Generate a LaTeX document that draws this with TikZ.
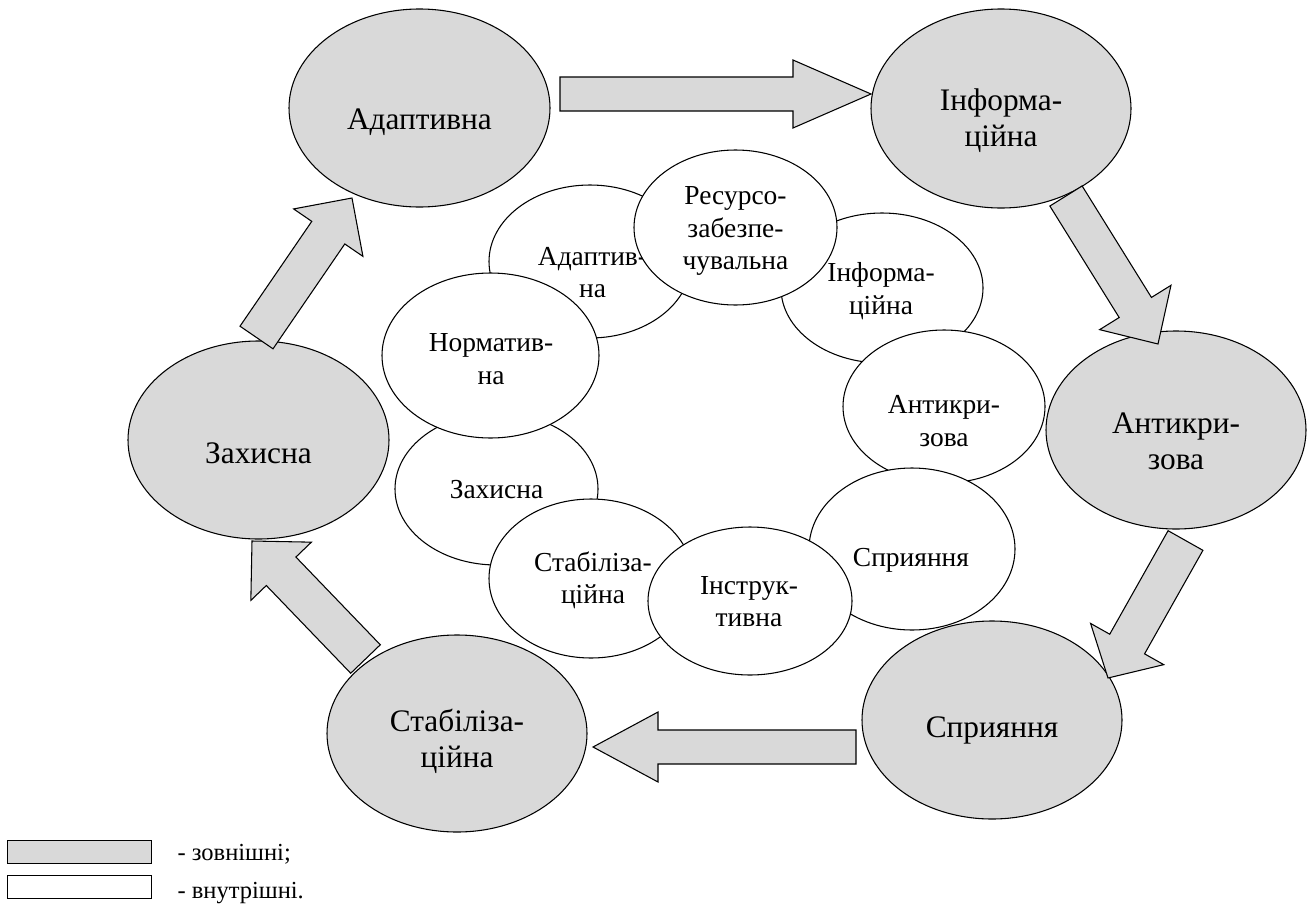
\documentclass[tikz,border=0pt]{standalone}
\usepackage{fontspec}
\setmainfont{Liberation Serif}
\usetikzlibrary{shapes.geometric,calc}
\definecolor{og}{RGB}{217,217,217}
\newcommand\myblockarrow[5]{%
  \draw[barrow] ($(#1)!#3!90:(#2)$) -- ($(#2)!#5!(#1)!#3!-90:(#1)$) -- ($(#2)!#5!(#1)!#4!-90:(#1)$) -- (#2) -- ($(#2)!#5!(#1)!#4!90:(#1)$) -- ($(#2)!#5!(#1)!#3!90:(#1)$) -- ($(#1)!#3!-90:(#2)$) -- cycle;}
\begin{document}
\begin{tikzpicture}[x=0.75pt,y=-0.75pt, line width=0.8pt,
  esize/.style 2 args={minimum width=#1*0.75pt, minimum height=#2*0.75pt},
  outell/.style={ellipse, draw=black, fill=og, inner sep=0pt},
  inell/.style={ellipse, draw=black, fill=white, inner sep=0pt},
  otext/.style={font=\fontsize{23.5}{27}\selectfont, align=center, inner sep=0pt},
  itext/.style={font=\fontsize{20.6}{24.4}\selectfont, align=center, inner sep=0pt},
  barrow/.style={draw=black, fill=og, line join=miter},
  legbox/.style={draw=black, inner sep=0pt, anchor=north west, minimum width=144*0.75pt, minimum height=23*0.75pt},
  legtext/.style={font=\fontsize{18.4}{22}\selectfont, anchor=west, inner sep=0pt}]
\useasboundingbox (0,0) rectangle (1307,907);

% outer ellipses
\node[outell, esize={261}{198}] (oAd) at (419.5,108) {};
\node[otext] (toAd) at (419.5,122) {Адаптивна};
\node[outell, esize={260}{199}] (oIn) at (1001,108.5) {};
\node[otext] (toIn) at (1001,121) {Інформа-\\ційна};
\node[outell, esize={260}{198}] (oAn) at (1176,430) {};
\node[otext] (toAn) at (1176,441) {Антикри-\\зова};
\node[outell, esize={260}{198}] (oSp) at (992,720) {};
\node[otext] (toSp) at (992,730) {Сприяння};
\node[outell, esize={260}{197}] (oSt) at (457,733.5) {};
\node[otext] (toSt) at (457,741.5) {Стабіліза-\\ційна};
\node[outell, esize={261}{198}] (oZa) at (258.5,440) {};
\node[otext] (toZa) at (258.5,453) {Захисна};

% arrow end points
\coordinate (a1s) at (560,94);      \coordinate (a1t) at (871,94);
\coordinate (a2s) at (1066,196);    \coordinate (a2t) at (1158,344);
\coordinate (a3s) at (1185.5,540.5); \coordinate (a3t) at (1108,678);
\coordinate (a4s) at (856,747);     \coordinate (a4t) at (593,747);
\coordinate (a5s) at (365.5,659);   \coordinate (a5t) at (252,541);
\coordinate (a6s) at (256.5,337.5); \coordinate (a6t) at (352,198);

\myblockarrow{a1s}{a1t}{12.75pt}{25.5pt}{58.5pt}
\myblockarrow{a2s}{a2t}{14.25pt}{31.5pt}{32.25pt}
\myblockarrow{a3s}{a3t}{15pt}{31.5pt}{29.25pt}
\myblockarrow{a4s}{a4t}{12.75pt}{26.25pt}{48.75pt}
\myblockarrow{a5s}{a5t}{15.4pt}{31.5pt}{31.5pt}
\myblockarrow{a6s}{a6t}{15pt}{31.5pt}{31.5pt}

% inner ellipses
\node[inell, esize={202}{153}] (iAd) at (590,261.5) {};
\node[itext] (tiAd) at (592.5,272.5) {Адаптив-\\на};
\node[inell, esize={202}{150}] (iIn) at (882,288) {};
\node[itext] (tiIn) at (881,291) {Інформа-\\ційна};
\node[inell, esize={202}{153}] (iAn) at (944,406.5) {};
\node[itext] (tiAn) at (944,421) {Антикри-\\зова};
\node[inell, esize={206}{162}] (iSp) at (912,549) {};
\node[itext] (tiSp) at (911,560) {Сприяння};
\node[inell, esize={203}{152}] (iZa) at (496.5,489) {};
\node[itext] (tiZa) at (496.5,490) {Захисна};
\node[inell, esize={204}{159}] (iSt) at (591,578.5) {};
\node[itext] (tiSt) at (593,580.5) {Стабіліза-\\ційна};
\node[inell, esize={204}{148}] (iIs) at (750,601) {};
\node[itext] (tiIs) at (749,601.5) {Інструк-\\тивна};
\node[inell, esize={217}{165}] (iNo) at (490.5,355.5) {};
\node[itext] (tiNo) at (491,359) {Норматив-\\на};
\node[inell, esize={203}{155}] (iRe) at (735.5,227.5) {};
\node[itext] (tiRe) at (735.5,231) {Ресурсо-\\забезпе-\\чувальна};

% legend
\node[legbox, fill=og] (lg1) at (7,840) {};
\node[legbox, fill=white] (lg2) at (7,875) {};
\node[legtext] (lt1) at (177,854) {- зовнішні;};
\node[legtext] (lt2) at (177,893) {- внутрішні.};
\end{tikzpicture}
\end{document}
